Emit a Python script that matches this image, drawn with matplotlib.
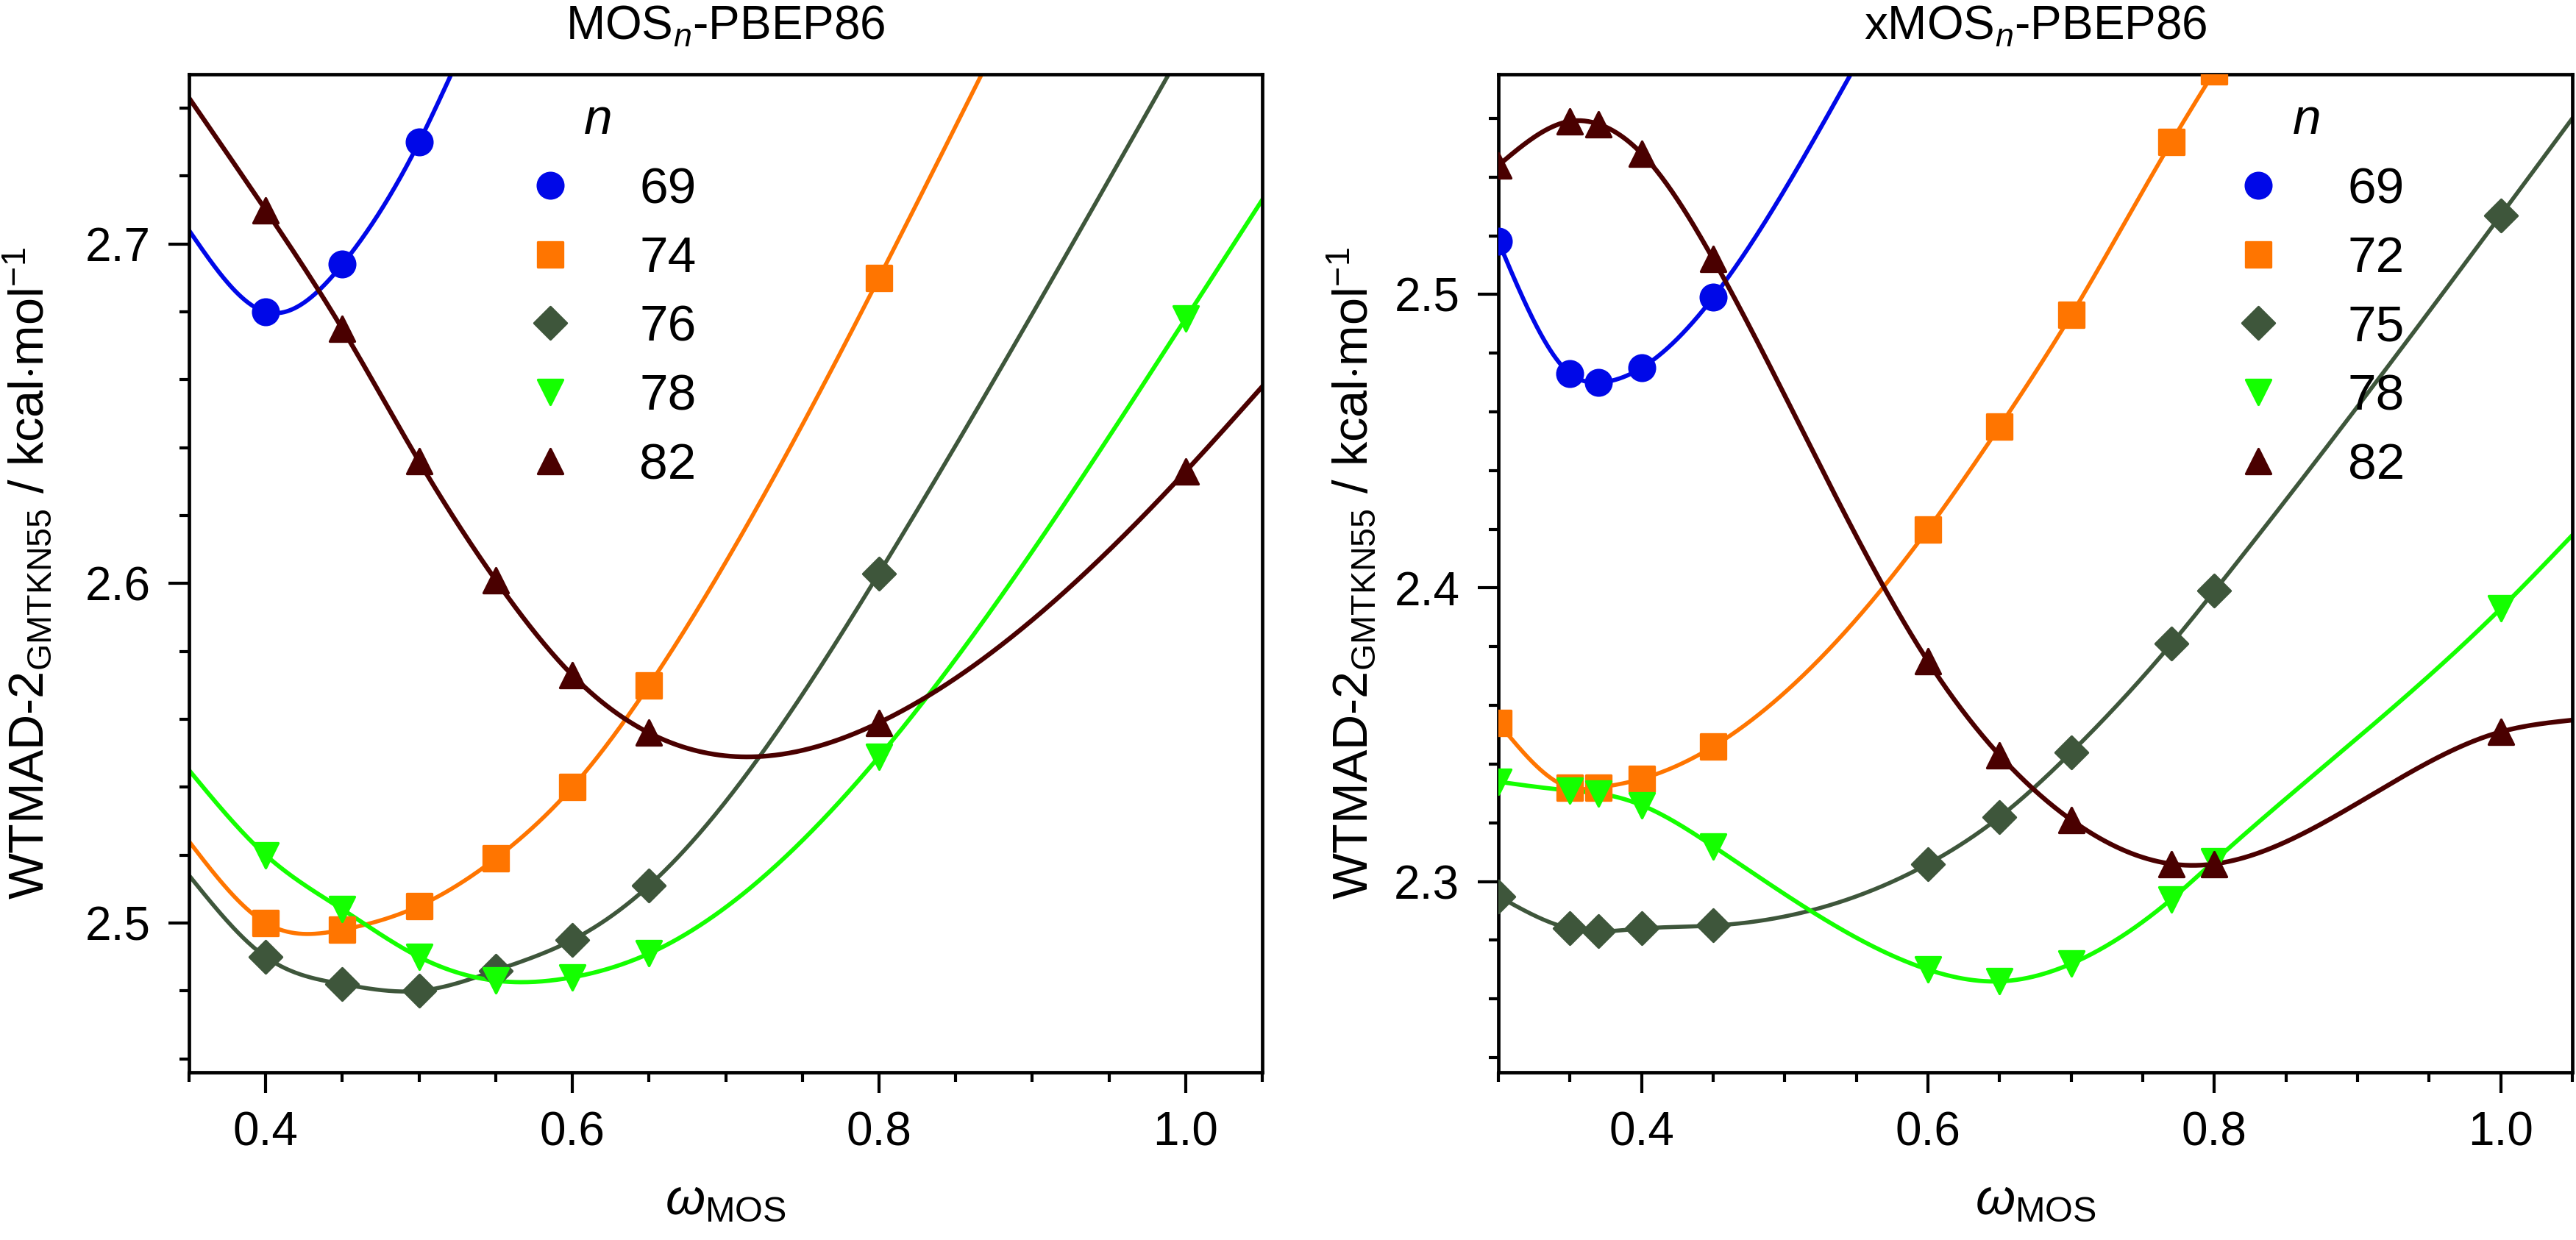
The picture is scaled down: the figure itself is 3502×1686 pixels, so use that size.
import numpy as np
import matplotlib
matplotlib.use("Agg")
import matplotlib.pyplot as plt
from matplotlib.lines import Line2D
from matplotlib.markers import MarkerStyle
from matplotlib.ticker import MultipleLocator, FormatStrFormatter

plt.rcParams['font.family'] = ['Liberation Sans', 'DejaVu Sans']
plt.rcParams['mathtext.fontset'] = 'custom'
plt.rcParams['mathtext.rm'] = 'Liberation Sans'
plt.rcParams['mathtext.it'] = 'Liberation Sans:italic'
plt.rcParams['mathtext.bf'] = 'Liberation Sans:bold'

# ---- data ----
# left panel: MOSn-PBEP86
left_n = ["69", "74", "76", "78", "82"]
left_x69 = [0.40, 0.45, 0.50]
left_y69 = [2.680, 2.694, 2.730]
left_x74 = [0.40, 0.45, 0.50, 0.55, 0.60, 0.65, 0.80]
left_y74 = [2.500, 2.498, 2.505, 2.519, 2.540, 2.570, 2.690]
left_x76 = [0.40, 0.45, 0.50, 0.55, 0.60, 0.65, 0.80]
left_y76 = [2.490, 2.482, 2.480, 2.486, 2.495, 2.511, 2.603]
left_x78 = [0.40, 0.45, 0.50, 0.55, 0.60, 0.65, 0.80, 1.00]
left_y78 = [2.520, 2.504, 2.490, 2.483, 2.484, 2.491, 2.549, 2.678]
left_x82 = [0.40, 0.45, 0.50, 0.55, 0.60, 0.65, 0.80, 1.00]
left_y82 = [2.710, 2.675, 2.636, 2.601, 2.573, 2.556, 2.559, 2.633]
# where the fitted curves meet the frame
left_ends69 = [(0.35, 2.704), (0.521, 2.750)]
left_ends74 = [(0.35, 2.524), (0.867, 2.750)]
left_ends76 = [(0.35, 2.514), (0.989, 2.750)]
left_ends78 = [(0.35, 2.545), (1.05, 2.713)]
left_ends82 = [(0.35, 2.743), (1.05, 2.658)]

# right panel: xMOSn-PBEP86
right_n = ["69", "72", "75", "78", "82"]
right_x69 = [0.30, 0.35, 0.37, 0.40, 0.45]
right_y69 = [2.518, 2.473, 2.470, 2.475, 2.499]
right_x72 = [0.30, 0.35, 0.37, 0.40, 0.45, 0.60, 0.65, 0.70, 0.77, 0.80]
right_y72 = [2.354, 2.332, 2.332, 2.335, 2.346, 2.420, 2.455, 2.493, 2.552, 2.576]
right_x75 = [0.30, 0.35, 0.37, 0.40, 0.45, 0.60, 0.65, 0.70, 0.77, 0.80, 1.00]
right_y75 = [2.295, 2.284, 2.283, 2.284, 2.285, 2.306, 2.322, 2.344, 2.381, 2.399, 2.527]
right_x78 = [0.30, 0.35, 0.37, 0.40, 0.45, 0.60, 0.65, 0.70, 0.77, 0.80, 1.00]
right_y78 = [2.334, 2.331, 2.330, 2.326, 2.312, 2.270, 2.266, 2.272, 2.294, 2.307, 2.393]
right_x82 = [0.30, 0.35, 0.37, 0.40, 0.45, 0.60, 0.65, 0.70, 0.77, 0.80, 1.00]
right_y82 = [2.544, 2.559, 2.558, 2.548, 2.512, 2.375, 2.343, 2.321, 2.306, 2.306, 2.351]
right_ends69 = [(0.546, 2.575)]
right_ends72 = []
right_ends75 = [(1.05, 2.560)]
right_ends78 = [(1.05, 2.418)]
right_ends82 = [(1.05, 2.355)]

colors = ['#0008e8', '#ff7500', '#3e563b', '#14ff00', '#4a0000']
markers = ['o', 's', 'D', 'v', '^']
msizes = [12.5, 12, 11, 12.5, 12.5]
lwidths = [2.1, 2.0, 2.0, 2.1, 2.3]


def natural_spline(xk, yk, xs):
    xk = np.asarray(xk, float)
    yk = np.asarray(yk, float)
    n = len(xk)
    h = np.diff(xk)
    A = np.zeros((n, n))
    r = np.zeros(n)
    A[0, 0] = A[-1, -1] = 1.0
    for i in range(1, n - 1):
        A[i, i - 1] = h[i - 1]
        A[i, i] = 2 * (h[i - 1] + h[i])
        A[i, i + 1] = h[i]
        r[i] = 3 * ((yk[i + 1] - yk[i]) / h[i] - (yk[i] - yk[i - 1]) / h[i - 1])
    c = np.linalg.solve(A, r)
    b = (yk[1:] - yk[:-1]) / h - h * (2 * c[:-1] + c[1:]) / 3
    d = (c[1:] - c[:-1]) / (3 * h)
    idx = np.clip(np.searchsorted(xk, xs) - 1, 0, n - 2)
    dx = xs - xk[idx]
    return yk[idx] + b[idx] * dx + c[idx] * dx ** 2 + d[idx] * dx ** 3


def draw_series(ax, xs, ys, ends, color, marker, ms, lw):
    pts = sorted(set(zip(xs, ys)) | set(ends))
    kx = [p[0] for p in pts]
    ky = [p[1] for p in pts]
    xx = np.linspace(kx[0], kx[-1], 600)
    ax.plot(xx, natural_spline(kx, ky, xx), color=color, lw=lw, zorder=2)
    ax.plot(xs, ys, ls='none', marker=MarkerStyle(marker, joinstyle='round'),
            ms=ms, color=color, mec=color, mew=1.2, zorder=3)


def style_axes(ax, xlim, ylim, title):
    ax.set_xlim(*xlim)
    ax.set_ylim(*ylim)
    ax.xaxis.set_major_locator(MultipleLocator(0.2))
    ax.xaxis.set_minor_locator(MultipleLocator(0.05))
    ax.yaxis.set_major_locator(MultipleLocator(0.1))
    ax.yaxis.set_minor_locator(MultipleLocator(0.02))
    ax.xaxis.set_major_formatter(FormatStrFormatter('%.1f'))
    ax.yaxis.set_major_formatter(FormatStrFormatter('%.1f'))
    ax.tick_params(which='both', direction='out', top=False, right=False,
                   width=1.5, labelsize=23)
    ax.tick_params(which='major', length=10, pad=9)
    ax.tick_params(which='minor', length=4.7)
    for s in ax.spines.values():
        s.set_linewidth(1.7)
    ax.set_title(title, fontsize=23, pad=17)
    ax.set_xlabel(r'$\omega_{\mathrm{MOS}}$', fontsize=25, labelpad=11)
    ax.set_ylabel(r'WTMAD-2$_{\mathrm{GMTKN55}}$ / kcal$\cdot$mol$^{-1}$', fontsize=24)


def add_legend(ax, labels, anchor):
    handles = [Line2D([], [], ls='none', marker=MarkerStyle(m, joinstyle='round'),
                      ms=ms, color=c, mec=c, mew=1.2)
               for c, m, ms in zip(colors, markers, msizes)]
    leg = ax.legend(handles, labels, title=r'$n$', loc='upper left',
                    bbox_to_anchor=anchor, frameon=False, fontsize=25,
                    title_fontsize=25, labelspacing=0.43, handlelength=2.0,
                    handletextpad=0.75, borderpad=0, borderaxespad=0)
    return leg


fig = plt.figure(figsize=(17.51, 8.43), dpi=200)
axL = fig.add_axes([0.0734, 0.1352, 0.4166, 0.8049])
axR = fig.add_axes([0.5817, 0.1352, 0.4169, 0.8049])

left_sets = [(left_x69, left_y69, left_ends69), (left_x74, left_y74, left_ends74),
             (left_x76, left_y76, left_ends76), (left_x78, left_y78, left_ends78),
             (left_x82, left_y82, left_ends82)]
right_sets = [(right_x69, right_y69, right_ends69), (right_x72, right_y72, right_ends72),
              (right_x75, right_y75, right_ends75), (right_x78, right_y78, right_ends78),
              (right_x82, right_y82, right_ends82)]

for (xs, ys, ends), c, m, ms, lw in zip(left_sets, colors, markers, msizes, lwidths):
    draw_series(axL, xs, ys, ends, c, m, ms, lw)
for (xs, ys, ends), c, m, ms, lw in zip(right_sets, colors, markers, msizes, lwidths):
    draw_series(axR, xs, ys, ends, c, m, ms, lw)

style_axes(axL, (0.35, 1.05), (2.456, 2.75), r'MOS$_n$-PBEP86')
style_axes(axR, (0.30, 1.05), (2.235, 2.575), r'xMOS$_n$-PBEP86')
axL.yaxis.set_label_coords(-0.126, 0.5)
axR.yaxis.set_label_coords(-0.112, 0.5)

add_legend(axL, left_n, (0.2886, 0.977))
add_legend(axR, right_n, (0.660, 0.977))

fig.savefig('out.png', dpi=200)
